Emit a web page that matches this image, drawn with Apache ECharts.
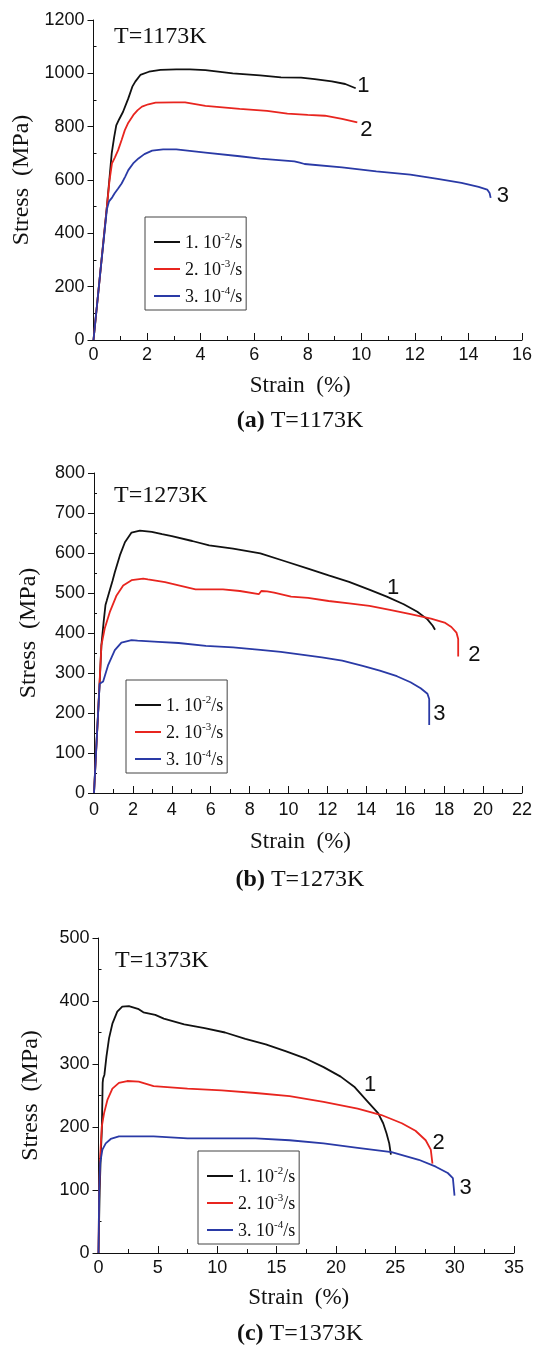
<!DOCTYPE html>
<html>
<head>
<meta charset="utf-8">
<script src="https://cdn.jsdelivr.net/npm/echarts@6/dist/echarts.min.js"></script>
<style>html,body{margin:0;padding:0;background:#fff;}#c{width:541px;height:1349px;}</style>
</head>
<body>
<div id="c"></div>
<script>
// ---- data (strain %, stress MPa) ----
const temps = ['T=1173K', 'T=1273K', 'T=1373K'];
const panelTags = ['(a)', '(b)', '(c)'];
const rateExp = ['-2', '-3', '-4'];
const curveLabels = ['1', '2', '3'];

const xMax = [16, 22, 35];
const xStep = [2, 2, 5];
const yMax = [1200, 800, 500];
const yStep = [200, 100, 100];

// (a) T=1173K
const a1 = [[0,0],[0.25,250],[0.5,500],[0.6,610],[0.68,700],[0.77,760],[0.85,805],[0.95,826],[1.1,855],[1.3,906],[1.45,950],[1.56,969],[1.75,994],[2.07,1006],[2.5,1013],[3.09,1015],[3.6,1015],[4.18,1012],[5.2,1000],[6.22,992],[7.0,985],[7.75,984],[8.26,978],[8.9,970],[9.4,960],[9.79,944]];
const a2 = [[0,0],[0.25,250],[0.5,500],[0.6,600],[0.69,662],[0.8,685],[0.92,712],[1.05,750],[1.17,787],[1.3,815],[1.49,844],[1.65,862],[1.81,875],[2.05,884],[2.32,890],[3.0,891],[3.42,891],[4.18,878],[5.46,867],[6.48,859],[7.24,849],[8.0,844],[8.64,841],[9.28,829],[9.85,816]];
const a3 = [[0,0],[0.25,250],[0.5,490],[0.58,520],[0.7,535],[0.79,550],[0.92,568],[1.05,587],[1.18,612],[1.3,637],[1.48,662],[1.68,681],[1.9,697],[2.19,710],[2.6,715],[3.09,715],[4.18,703],[5.46,689],[6.22,680],[7.5,670],[7.7,665],[7.88,660],[9.28,647],[10.56,632],[11.83,620],[12.85,604],[13.74,589],[14.38,574],[14.7,564],[14.79,551],[14.83,533]];

// (b) T=1273K
const b1 = [[0,0],[0.1,100],[0.2,190],[0.3,285],[0.38,369],[0.5,430],[0.59,470],[0.65,480],[0.81,507],[0.95,530],[1.07,552],[1.33,594],[1.59,627],[1.93,651],[2.36,656],[2.97,653],[3.5,647],[4.0,642],[5.05,630],[5.92,619],[7.15,611],[8.55,599],[9.78,580],[11.0,561],[12.06,544],[13.11,528],[14.18,508],[15.05,491],[15.92,472],[16.62,453],[17.14,434],[17.41,418],[17.53,408]];
const b2 = [[0,0],[0.2,190],[0.38,369],[0.55,411],[0.81,452],[1.16,494],[1.5,519],[1.93,532],[2.53,536],[2.77,534],[3.65,527],[4.35,519],[5.22,509],[6.63,509],[7.5,505],[8.47,497],[8.6,505],[8.9,504],[9.26,501],[10.13,491],[11.0,488],[12.06,480],[13.11,474],[14.16,468],[15.21,458],[16.27,447],[17.32,436],[18.02,426],[18.37,415],[18.63,401],[18.72,385],[18.72,341]];
const b3 = [[0,0],[0.2,190],[0.29,273],[0.47,279],[0.72,319],[1.07,357],[1.41,376],[1.93,382],[2.24,381],[3.3,378],[4.35,375],[5.75,368],[7.15,364],[8.55,358],[9.6,353],[10.66,346],[11.71,339],[12.76,331],[13.81,318],[14.69,306],[15.57,292],[16.27,277],[16.79,262],[17.14,248],[17.23,235],[17.23,170]];

// (c) T=1373K
const c1 = [[0,0],[0.1,100],[0.2,160],[0.28,195],[0.35,270],[0.39,277],[0.5,283],[0.67,312],[0.89,341],[1.17,364],[1.58,383],[2.0,391],[2.56,392],[3.39,387],[3.78,382],[4.78,378],[5.5,372],[7.22,363],[8.94,357],[10.66,350],[12.37,340],[14.09,331],[15.81,320],[17.53,308],[18.96,295],[20.4,280],[21.54,264],[22.69,240],[23.55,222],[23.98,206],[24.26,190],[24.49,174],[24.63,156]];
const c2 = [[0,0],[0.06,100],[0.14,153],[0.28,201],[0.47,222],[0.75,243],[1.17,261],[1.72,270],[2.42,273],[3.39,272],[4.64,265],[7.5,261],[10.37,258],[13.23,254],[16.1,249],[18.96,240],[21.83,229],[23.83,219],[25.55,206],[26.7,194],[27.56,179],[27.99,164],[28.13,142]];
const c3 = [[0,0],[0.06,100],[0.14,143],[0.33,164],[0.61,174],[1.03,181],[1.72,185],[3.39,185],[4.64,185],[7.5,182],[10.37,182],[13.23,182],[16.1,179],[18.96,174],[21.83,167],[24.69,160],[26.98,148],[28.41,137],[29.42,127],[29.85,119],[29.99,91]];

const panels = [[a1, a2, a3], [b1, b2, b3], [c1, c2, c3]];

// ---- styling / layout ----
const colors = ['#111111', '#e8251f', '#2a3aa6'];
const SERIF = '"Liberation Serif", "Times New Roman", serif';
const SANS = '"Liberation Sans", Arial, sans-serif';
const grids = [
  {left: 93.5, right: 19, top: 20, height: 320},
  {left: 94, right: 19, top: 473, height: 320},
  {left: 98.5, right: 27, top: 938, height: 315}
];
const yNameGap = [55, 53, 56];
const xNameGap = [34, 37, 33];
const xLabelMargin = [6, 8, 6];
const legendPos = [{left: 145, top: 217}, {left: 126, top: 680}, {left: 198, top: 1151}];
const labelOffsets = [
  [[1.5, -2], [3, 7.5], [6, -2]],
  [[-48, -42], [10, -2], [4.1, -11]],
  [[-27, -70], [0, -21], [5, -8]]
];
const tempPos = [[114, 36.6], [114, 495.6], [115, 960.7]];
const captionY = [421, 880, 1334];

const xAxes = [], yAxes = [], series = [], legends = [], graphics = [];
for (let p = 0; p < 3; p++) {
  xAxes.push({
    type: 'value', gridIndex: p, min: 0, max: xMax[p], interval: xStep[p],
    name: 'Strain  (%)', nameLocation: 'middle', nameGap: xNameGap[p],
    nameTextStyle: {fontFamily: SERIF, fontSize: 23, color: '#111', padding: [0, 15, 0, 0]},
    axisLine: {onZero: false, lineStyle: {color: '#111', width: 1}},
    axisTick: {inside: true, length: 7, lineStyle: {color: '#111'}},
    minorTick: {show: true, splitNumber: 2, length: 4, lineStyle: {color: '#111'}},
    axisLabel: {fontFamily: SANS, fontSize: 18, color: '#111', margin: xLabelMargin[p],
                formatter: function (v) { return String(v); }},
    splitLine: {show: false}
  });
  yAxes.push({
    type: 'value', gridIndex: p, min: 0, max: yMax[p], interval: yStep[p],
    name: 'Stress  (MPa)', nameLocation: 'middle', nameGap: yNameGap[p],
    nameTextStyle: {fontFamily: SERIF, fontSize: 24, color: '#111'},
    axisLine: {show: true, onZero: false, lineStyle: {color: '#111', width: 1}},
    axisTick: {show: true, inside: false, length: 6, lineStyle: {color: '#111'}},
    axisLabel: {fontFamily: SANS, fontSize: 18, color: '#111', margin: 9,
                formatter: function (v) { return String(v); }},
    splitLine: {show: false}
  });
  const minorVals = [];
  for (let v = yStep[p] / 2; v < yMax[p]; v += yStep[p]) minorVals.push(v);
  yAxes.push({
    type: 'value', gridIndex: p, position: 'left', offset: 0,
    min: 0, max: yMax[p], interval: yStep[p] / 2,
    axisLine: {show: false},
    axisTick: {show: true, inside: true, length: 3, customValues: minorVals, lineStyle: {color: '#111'}},
    axisLabel: {show: false},
    splitLine: {show: false}
  });
  const names = [];
  for (let k = 0; k < 3; k++) {
    const nm = 'p' + p + 's' + k;
    names.push(nm);
    series.push({
      type: 'line', name: nm, data: panels[p][k],
      xAxisIndex: p, yAxisIndex: 2 * p,
      symbol: 'none', showSymbol: false, clip: false, silent: true,
      lineStyle: {color: colors[k], width: 1.8},
      itemStyle: {color: colors[k]},
      endLabel: {
        show: true, formatter: curveLabels[k], distance: 0,
        offset: labelOffsets[p][k],
        fontFamily: SANS, fontSize: 22, color: '#111'
      }
    });
  }
  legends.push({
    data: names, orient: 'vertical', left: legendPos[p].left, top: legendPos[p].top,
    padding: [15, 4, 4, 9], itemGap: 7, itemWidth: 26, itemHeight: 2, icon: 'rect',
    borderColor: '#444', borderWidth: 1, selectedMode: false, backgroundColor: '#fff',
    formatter: function (name) {
      const k = +name.slice(-1);
      return '{n|' + (k + 1) + '. 10}{s|' + rateExp[k] + '}{n|/s}';
    },
    textStyle: {
      fontFamily: SERIF, fontSize: 18, color: '#111',
      rich: {
        n: {fontFamily: SERIF, fontSize: 18, color: '#111', lineHeight: 20, verticalAlign: 'bottom'},
        s: {fontFamily: SERIF, fontSize: 11, color: '#111', lineHeight: 8, verticalAlign: 'top'}
      }
    }
  });
  graphics.push({
    type: 'text', x: tempPos[p][0], y: tempPos[p][1],
    style: {text: temps[p], fontFamily: SERIF, fontSize: 24, fill: '#111',
            textAlign: 'left', textVerticalAlign: 'middle'}
  });
  graphics.push({
    type: 'text', x: 300, y: captionY[p],
    style: {
      text: '{b|' + panelTags[p] + '} ' + temps[p],
      fontFamily: SERIF, fontSize: 24, fill: '#111',
      textAlign: 'center', textVerticalAlign: 'middle',
      rich: {b: {fontFamily: SERIF, fontSize: 24, fontWeight: 'bold', fill: '#111'}}
    }
  });
}

const chart = echarts.init(document.getElementById('c'), null, {renderer: 'canvas'});
chart.setOption({
  animation: false,
  backgroundColor: '#ffffff',
  grid: grids,
  xAxis: xAxes,
  yAxis: yAxes,
  legend: legends,
  series: series,
  graphic: graphics
});
</script>
</body>
</html>
